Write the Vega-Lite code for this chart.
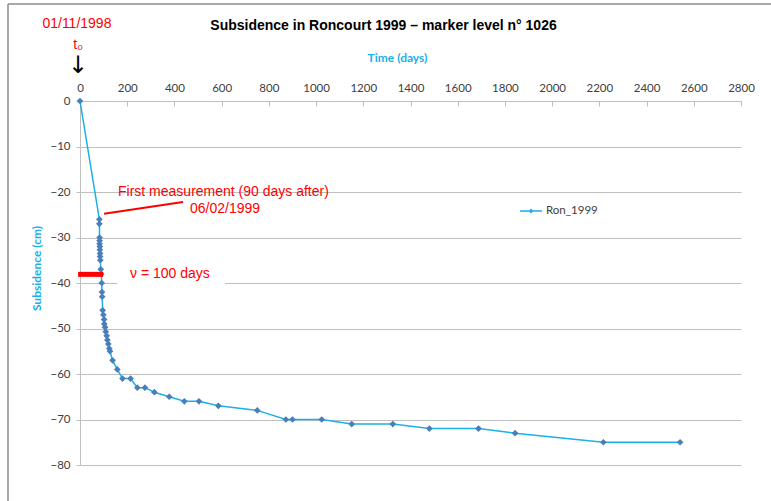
{
  "$schema": "https://vega.github.io/schema/vega-lite/v6.json",
  "width": 661,
  "height": 364,
  "autosize": {"type": "none"},
  "padding": {"left": 80, "top": 101, "right": 30, "bottom": 36},
  "background": "white",
  "config": {"view": {"stroke": null}},
  "title": {
    "text": "Subsidence in Roncourt 1999 – marker level  n° 1026",
    "font": "Liberation Sans",
    "fontSize": 14,
    "fontWeight": "bold",
    "color": "black",
    "anchor": "middle",
    "frame": "group",
    "dx": -27,
    "offset": -37,
    "baseline": "middle"
  },
  "datasets": {
    "series": [
      {"day": 0, "cm": 0, "s": "Ron_1999"},
      {"day": 82, "cm": -26, "s": "Ron_1999"},
      {"day": 82, "cm": -27, "s": "Ron_1999"},
      {"day": 83, "cm": -30, "s": "Ron_1999"},
      {"day": 83, "cm": -30.7, "s": "Ron_1999"},
      {"day": 83, "cm": -31.4, "s": "Ron_1999"},
      {"day": 84, "cm": -32, "s": "Ron_1999"},
      {"day": 84, "cm": -32.7, "s": "Ron_1999"},
      {"day": 85, "cm": -33.5, "s": "Ron_1999"},
      {"day": 85, "cm": -34.2, "s": "Ron_1999"},
      {"day": 86, "cm": -35, "s": "Ron_1999"},
      {"day": 88, "cm": -37, "s": "Ron_1999"},
      {"day": 90, "cm": -38, "s": "Ron_1999"},
      {"day": 92, "cm": -40, "s": "Ron_1999"},
      {"day": 93, "cm": -42, "s": "Ron_1999"},
      {"day": 94, "cm": -43, "s": "Ron_1999"},
      {"day": 96, "cm": -46, "s": "Ron_1999"},
      {"day": 99, "cm": -47, "s": "Ron_1999"},
      {"day": 102, "cm": -48, "s": "Ron_1999"},
      {"day": 103, "cm": -49, "s": "Ron_1999"},
      {"day": 106, "cm": -49.7, "s": "Ron_1999"},
      {"day": 109, "cm": -50.7, "s": "Ron_1999"},
      {"day": 113, "cm": -51.6, "s": "Ron_1999"},
      {"day": 116, "cm": -52.5, "s": "Ron_1999"},
      {"day": 120, "cm": -53.4, "s": "Ron_1999"},
      {"day": 124, "cm": -54.4, "s": "Ron_1999"},
      {"day": 127, "cm": -55, "s": "Ron_1999"},
      {"day": 138, "cm": -57, "s": "Ron_1999"},
      {"day": 158, "cm": -59, "s": "Ron_1999"},
      {"day": 180, "cm": -61, "s": "Ron_1999"},
      {"day": 214, "cm": -61, "s": "Ron_1999"},
      {"day": 243, "cm": -63, "s": "Ron_1999"},
      {"day": 275, "cm": -63, "s": "Ron_1999"},
      {"day": 315, "cm": -64, "s": "Ron_1999"},
      {"day": 378, "cm": -65, "s": "Ron_1999"},
      {"day": 442, "cm": -66, "s": "Ron_1999"},
      {"day": 504, "cm": -66, "s": "Ron_1999"},
      {"day": 586, "cm": -67, "s": "Ron_1999"},
      {"day": 751, "cm": -68, "s": "Ron_1999"},
      {"day": 872, "cm": -70, "s": "Ron_1999"},
      {"day": 900, "cm": -70, "s": "Ron_1999"},
      {"day": 1024, "cm": -70, "s": "Ron_1999"},
      {"day": 1151, "cm": -71, "s": "Ron_1999"},
      {"day": 1325, "cm": -71, "s": "Ron_1999"},
      {"day": 1480, "cm": -72, "s": "Ron_1999"},
      {"day": 1688, "cm": -72, "s": "Ron_1999"},
      {"day": 1843, "cm": -73, "s": "Ron_1999"},
      {"day": 2217, "cm": -75, "s": "Ron_1999"},
      {"day": 2542, "cm": -75, "s": "Ron_1999"}
    ],
    "frameV": [{"day": -305, "cm": 21.3, "cm2": -95}],
    "frameH": [{"day": -305, "day2": 3000, "cm": 21.3}],
    "box": [{"day": 157, "day2": 614, "cm": -36, "cm2": -41.5}],
    "bar": [{"day": -8, "day2": 98, "cm": -38.1}],
    "pointer": [{"day": 102, "day2": 436, "cm": -24.8, "cm2": -22.2}],
    "notesBig": [
      {"day": -13, "cm": 16.9, "t": "01/11/1998"},
      {"day": -8, "cm": 12.3, "t": "t₀"}
    ],
    "notes": [
      {"day": 161, "cm": -20, "t": "First measurement  (90 days after)"},
      {"day": 466, "cm": -23.7, "t": "06/02/1999"},
      {"day": 212, "cm": -38, "t": "ν = 100 days"}
    ],
    "arrow": [{"day": -8, "cm": 7.7, "t": "↓"}]
  },
  "layer": [
    {
      "data": {"name": "series"},
      "mark": {"type": "line", "strokeWidth": 1.5},
      "encoding": {
        "x": {"field": "day", "type": "quantitative", "title": "Time (days)",
          "scale": {"domain": [0, 2800], "nice": false, "zero": false},
          "axis": {"orient": "top", "values": [0, 200, 400, 600, 800, 1000, 1200, 1400, 1600, 1800, 2000, 2200, 2400, 2600, 2800],
            "format": "d",
            "grid": false, "ticks": true, "tickSize": -5, "tickColor": "#bfbfbf", "domainColor": "#bfbfbf", "labelPadding": 13,
            "labelFont": "Lato", "labelFontSize": 11.5, "labelColor": "#404040", "labelFlush": false,
            "titleFont": "Lato", "titleFontSize": 12, "titleFontWeight": "bold", "titleColor": "#1ab0ea",
            "titleX": 317, "titleY": -44, "titleBaseline": "middle"}},
        "y": {"field": "cm", "type": "quantitative", "title": "Subsidence (cm)",
          "scale": {"domain": [-80, 0], "nice": false, "zero": false},
          "axis": {"values": [0, -10, -20, -30, -40, -50, -60, -70, -80],
            "format": "d",
            "grid": true, "gridColor": "#bfbfbf", "domainColor": "#bfbfbf", "tickColor": "#bfbfbf", "tickSize": 4, "labelPadding": 6,
            "labelFont": "Lato", "labelFontSize": 11.5, "labelColor": "#404040",
            "titleFont": "Lato", "titleFontSize": 12, "titleFontWeight": "bold", "titleColor": "#1ab0ea",
            "titleX": -44, "titleY": 167, "titleAngle": -90, "titleBaseline": "middle"}},
        "color": {"field": "s", "type": "nominal", "title": null,
          "scale": {"range": ["#1ab0ea"]},
          "legend": {"orient": "none", "legendX": 439, "legendY": 98,
            "symbolType": "M-1,0H1M-0.12,0L0,-0.12L0.12,0L0,0.12Z", "symbolSize": 484, "symbolStrokeWidth": 1.5,
            "symbolFillColor": "#4a7ebb", "labelFont": "Lato", "labelFontSize": 11.5, "labelColor": "#404040", "labelOffset": 3}}
      }
    },
    {
      "data": {"name": "series"},
      "mark": {"type": "point", "shape": "diamond", "filled": true, "size": 45, "color": "#4a7ebb", "opacity": 1},
      "encoding": {
        "x": {"field": "day", "type": "quantitative", "title": "Time (days)", "scale": {"domain": [0, 2800], "nice": false, "zero": false}},
        "y": {"field": "cm", "type": "quantitative", "title": "Subsidence (cm)", "scale": {"domain": [-80, 0], "nice": false, "zero": false}}
      }
    },
    {
      "data": {"name": "frameV"},
      "mark": {"type": "rule", "color": "#8c8c8c", "strokeWidth": 1.5},
      "encoding": {
        "x": {"field": "day", "type": "quantitative", "title": "Time (days)"},
        "y": {"field": "cm", "type": "quantitative", "title": "Subsidence (cm)"},
        "y2": {"field": "cm2"}
      }
    },
    {
      "data": {"name": "frameH"},
      "mark": {"type": "rule", "color": "#8c8c8c", "strokeWidth": 1.5},
      "encoding": {
        "x": {"field": "day", "type": "quantitative", "title": "Time (days)"},
        "x2": {"field": "day2"},
        "y": {"field": "cm", "type": "quantitative", "title": "Subsidence (cm)"}
      }
    },
    {
      "data": {"name": "box"},
      "mark": {"type": "rect", "color": "white"},
      "encoding": {
        "x": {"field": "day", "type": "quantitative", "title": "Time (days)"},
        "x2": {"field": "day2"},
        "y": {"field": "cm", "type": "quantitative", "title": "Subsidence (cm)"},
        "y2": {"field": "cm2"}
      }
    },
    {
      "data": {"name": "bar"},
      "mark": {"type": "rule", "color": "#ff0000", "strokeWidth": 5},
      "encoding": {
        "x": {"field": "day", "type": "quantitative", "title": "Time (days)"},
        "x2": {"field": "day2"},
        "y": {"field": "cm", "type": "quantitative", "title": "Subsidence (cm)"}
      }
    },
    {
      "data": {"name": "pointer"},
      "mark": {"type": "rule", "color": "#ff0000", "strokeWidth": 2},
      "encoding": {
        "x": {"field": "day", "type": "quantitative", "title": "Time (days)"},
        "x2": {"field": "day2"},
        "y": {"field": "cm", "type": "quantitative", "title": "Subsidence (cm)"},
        "y2": {"field": "cm2"}
      }
    },
    {
      "data": {"name": "notesBig"},
      "mark": {"type": "text", "color": "#ff0000", "font": "Liberation Sans", "fontSize": 14, "align": "center", "baseline": "middle"},
      "encoding": {
        "x": {"field": "day", "type": "quantitative", "title": "Time (days)"},
        "y": {"field": "cm", "type": "quantitative", "title": "Subsidence (cm)"},
        "text": {"field": "t"}
      }
    },
    {
      "data": {"name": "notes"},
      "mark": {"type": "text", "color": "#ff0000", "font": "Liberation Sans", "fontSize": 14, "align": "left", "baseline": "middle"},
      "encoding": {
        "x": {"field": "day", "type": "quantitative", "title": "Time (days)"},
        "y": {"field": "cm", "type": "quantitative", "title": "Subsidence (cm)"},
        "text": {"field": "t"}
      }
    },
    {
      "data": {"name": "arrow"},
      "mark": {"type": "text", "color": "black", "font": "DejaVu Sans", "fontSize": 24, "align": "center", "baseline": "middle"},
      "encoding": {
        "x": {"field": "day", "type": "quantitative", "title": "Time (days)"},
        "y": {"field": "cm", "type": "quantitative", "title": "Subsidence (cm)"},
        "text": {"field": "t"}
      }
    }
  ]
}
